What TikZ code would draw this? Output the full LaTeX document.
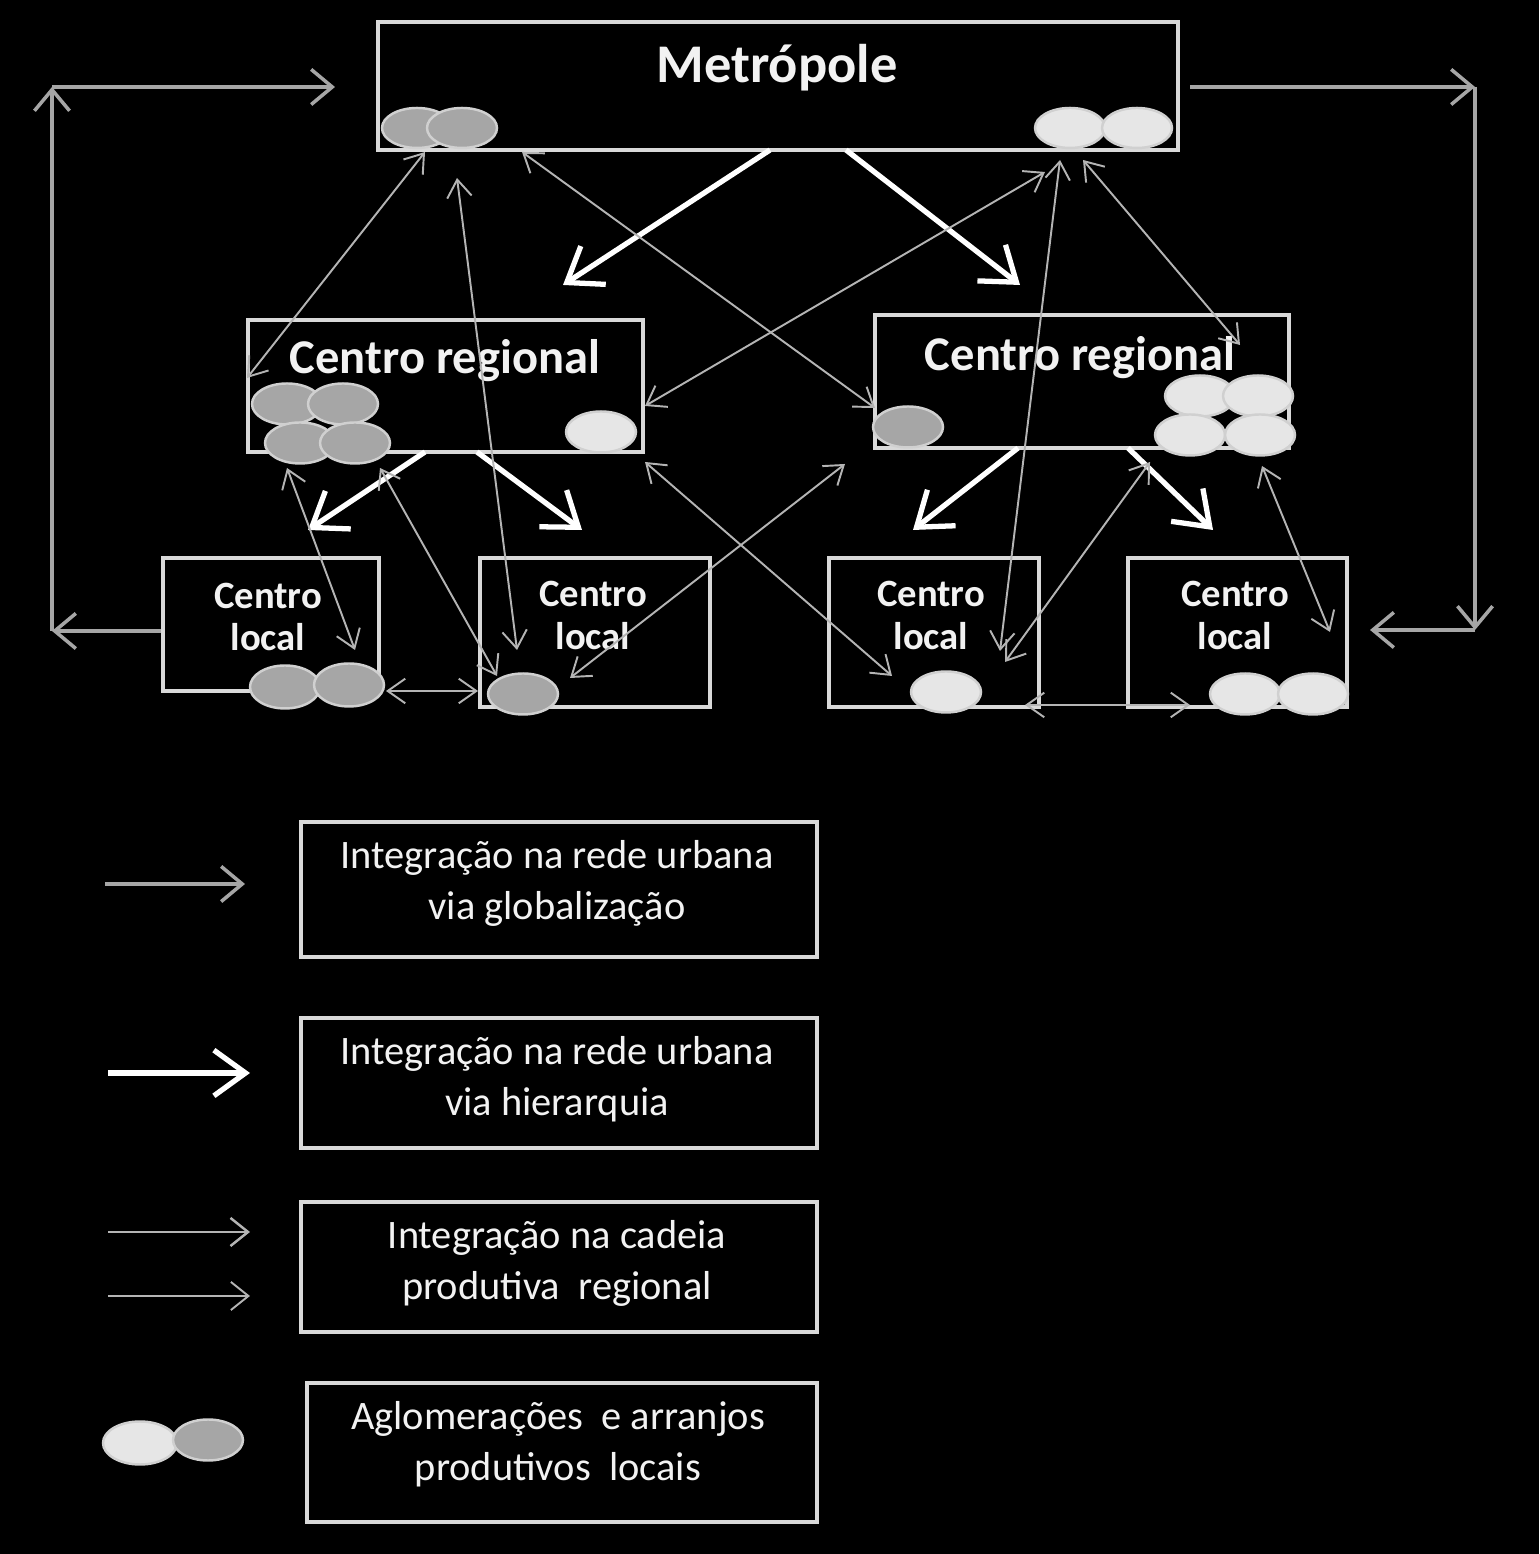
\documentclass[tikz,border=0pt]{standalone}
\usepackage{fontspec}
\setmainfont{Carlito}
\usetikzlibrary{arrows.meta,shapes.geometric}
\definecolor{boxline}{HTML}{D9D9D9}
\definecolor{txt}{HTML}{F2F2F2}
\definecolor{darkclus}{HTML}{A6A6A6}
\definecolor{lightclus}{HTML}{E6E6E6}
\definecolor{ring}{HTML}{D0D0D0}
\definecolor{globgray}{HTML}{A6A6A6}
\definecolor{chaingray}{HTML}{B4B4B4}
\tikzstyle{box}=[draw=boxline,line width=0.9pt,inner sep=0pt]
\tikzstyle{bigname}=[text=txt,font=\bfseries\fontsize{15.5}{18}\selectfont]
\tikzstyle{midname}=[text=txt,font=\bfseries\fontsize{13.8}{16}\selectfont]
\tikzstyle{smallname}=[text=txt,font=\bfseries\fontsize{11}{12.2}\selectfont,align=center]
\tikzstyle{legtext}=[text=txt,font=\fontsize{11.5}{14.5}\selectfont,align=center]
\tikzstyle{dclus}=[ellipse,draw=ring,line width=0.7pt,fill=darkclus,minimum width=0.70cm,minimum height=0.41cm,inner sep=0pt]
\tikzstyle{lclus}=[dclus,fill=lightclus]
\tikzstyle{hier}=[draw=white,line width=1.5pt,-{Straight Barb[length=9pt,width=13pt]}]
\tikzstyle{glob}=[draw=globgray,line width=1pt,-{Straight Barb[length=6pt,width=10pt]}]
\tikzstyle{chain}=[draw=chaingray,line width=0.55pt,{Straight Barb[length=5pt,width=7pt]}-{Straight Barb[length=5pt,width=7pt]}]

\begin{document}
\begin{tikzpicture}
	\fill[black] (0,0) rectangle (15.39,15.54);
	\useasboundingbox (0,0) rectangle (15.39,15.54);
	% boxes of the network
	\node[box,minimum width=8.00cm,minimum height=1.28cm] (metro) at (7.78,14.68) {};
	\node[box,minimum width=3.95cm,minimum height=1.32cm] (crl) at (4.455,11.68) {};
	\node[box,minimum width=4.14cm,minimum height=1.33cm] (crr) at (10.82,11.725) {};
	\node[box,minimum width=2.16cm,minimum height=1.33cm] (cl1) at (2.71,9.295) {};
	\node[box,minimum width=2.30cm,minimum height=1.49cm] (cl2) at (5.95,9.215) {};
	\node[box,minimum width=2.10cm,minimum height=1.49cm] (cl3) at (9.34,9.215) {};
	\node[box,minimum width=2.19cm,minimum height=1.49cm] (cl4) at (12.375,9.215) {};
	% clusters
	\node[dclus,minimum height=0.40cm] (md1) at (4.17,14.26) {};
	\node[dclus,minimum height=0.40cm] (md2) at (4.62,14.26) {};
	\node[lclus,minimum height=0.40cm] (ml1) at (10.70,14.26) {};
	\node[lclus,minimum height=0.40cm] (ml2) at (11.37,14.26) {};
	\node[dclus] (ad1) at (2.87,11.50) {};
	\node[dclus] (ad2) at (3.43,11.50) {};
	\node[dclus] (ad3) at (3.00,11.11) {};
	\node[dclus] (ad4) at (3.55,11.11) {};
	\node[lclus] (al1) at (6.01,11.22) {};
	\node[dclus] (bd1) at (9.08,11.27) {};
	\node[lclus] (bl1) at (12.00,11.58) {};
	\node[lclus] (bl2) at (12.58,11.58) {};
	\node[lclus] (bl3) at (11.90,11.19) {};
	\node[lclus] (bl4) at (12.60,11.19) {};
	\node[dclus,minimum height=0.43cm] (cd1) at (2.85,8.67) {};
	\node[dclus,minimum height=0.43cm] (cd2) at (3.49,8.69) {};
	\node[dclus] (dd1) at (5.23,8.60) {};
	\node[lclus] (el1) at (9.46,8.62) {};
	\node[lclus] (fl1) at (12.45,8.60) {};
	\node[lclus] (fl2) at (13.13,8.60) {};
	% names
	\node[bigname] (metrotxt) at (7.77,14.86) {Metrópole};
	\node[midname] (crltxt) at (4.45,11.93) {Centro regional};
	\node[midname] (crrtxt) at (10.80,11.96) {Centro regional};
	\node[smallname] (cl1txt) at (2.68,9.37) {Centro\\local};
	\node[smallname] (cl2txt) at (5.93,9.385) {Centro\\local};
	\node[smallname] (cl3txt) at (9.31,9.385) {Centro\\local};
	\node[smallname] (cl4txt) at (12.35,9.385) {Centro\\local};
	% arrow ends
	\coordinate (gl1) at (0.52,9.23);
	\coordinate (gl2) at (0.52,14.67);
	\coordinate (gl3) at (3.35,14.67);
	\coordinate (gr1) at (11.90,14.67);
	\coordinate (gr2) at (14.75,14.67);
	\coordinate (gr3) at (14.75,9.24);
	\coordinate (gr4) at (13.70,9.24);
	\coordinate (h1a) at (7.70,14.04);
	\coordinate (h1b) at (5.63,12.69);
	\coordinate (h2a) at (8.46,14.04);
	\coordinate (h2b) at (10.20,12.69);
	\coordinate (h3a) at (4.25,11.02);
	\coordinate (h3b) at (3.08,10.24);
	\coordinate (h4a) at (4.77,11.02);
	\coordinate (h4b) at (5.82,10.24);
	\coordinate (h5a) at (10.18,11.06);
	\coordinate (h5b) at (9.13,10.24);
	\coordinate (h6a) at (11.28,11.06);
	\coordinate (h6b) at (12.13,10.24);
	\coordinate (c1a) at (4.25,14.02);
	\coordinate (c1b) at (2.47,11.76);
	\coordinate (c2a) at (4.57,13.76);
	\coordinate (c2b) at (5.17,9.04);
	\coordinate (c3a) at (5.22,14.02);
	\coordinate (c3b) at (8.75,11.46);
	\coordinate (c4a) at (10.45,13.82);
	\coordinate (c4b) at (6.45,11.48);
	\coordinate (c5a) at (10.60,13.94);
	\coordinate (c5b) at (10.00,9.03);
	\coordinate (c6a) at (10.83,13.94);
	\coordinate (c6b) at (12.40,12.09);
	\coordinate (c7a) at (2.87,10.86);
	\coordinate (c7b) at (3.55,9.04);
	\coordinate (c8a) at (3.80,10.86);
	\coordinate (c8b) at (4.97,8.78);
	\coordinate (c9a) at (6.45,10.92);
	\coordinate (c9b) at (8.92,8.78);
	\coordinate (c10a) at (8.45,10.90);
	\coordinate (c10b) at (5.70,8.76);
	\coordinate (c11a) at (11.50,10.92);
	\coordinate (c11b) at (10.05,8.92);
	\coordinate (c12a) at (12.62,10.88);
	\coordinate (c12b) at (13.30,9.22);
	\coordinate (c13a) at (3.86,8.63);
	\coordinate (c13b) at (4.78,8.63);
	\coordinate (c14a) at (10.25,8.49);
	\coordinate (c14b) at (11.90,8.49);
	% globalization
	\draw[glob] (cl1.west |- gl1) -- (gl1);
	\draw[glob] (gl1) -- (gl2);
	\draw[glob] (gl2) -- (gl3);
	\draw[glob] (gr1) -- (gr2);
	\draw[glob] (gr2) -- (gr3);
	\draw[glob] (gr3) -- (gr4);
	% hierarchy
	\draw[hier] (h1a) -- (h1b);
	\draw[hier] (h2a) -- (h2b);
	\draw[hier] (h3a) -- (h3b);
	\draw[hier] (h4a) -- (h4b);
	\draw[hier] (h5a) -- (h5b);
	\draw[hier] (h6a) -- (h6b);
	% productive chain
	\draw[chain] (c1a) -- (c1b);
	\draw[chain] (c2a) -- (c2b);
	\draw[chain] (c3a) -- (c3b);
	\draw[chain] (c4a) -- (c4b);
	\draw[chain] (c5a) -- (c5b);
	\draw[chain] (c6a) -- (c6b);
	\draw[chain] (c7a) -- (c7b);
	\draw[chain] (c8a) -- (c8b);
	\draw[chain] (c9a) -- (c9b);
	\draw[chain] (c10a) -- (c10b);
	\draw[chain] (c11a) -- (c11b);
	\draw[chain] (c12a) -- (c12b);
	\draw[chain] (c13a) -- (c13b);
	\draw[chain] (c14a) -- (c14b);
	% legend
	\node[box,minimum width=5.16cm,minimum height=1.35cm] (leg1) at (5.59,6.645) {};
	\node[box,minimum width=5.16cm,minimum height=1.30cm] (leg2) at (5.59,4.71) {};
	\node[box,minimum width=5.16cm,minimum height=1.30cm] (leg3) at (5.59,2.87) {};
	\node[box,minimum width=5.10cm,minimum height=1.39cm] (leg4) at (5.62,1.015) {};
	\node[legtext] (leg1txt) at (5.57,6.71) {Integração na rede urbana\\via globalização};
	\node[legtext] (leg2txt) at (5.57,4.75) {Integração na rede urbana\\via hierarquia};
	\node[legtext] (leg3txt) at (5.57,2.91) {Integração na cadeia\\produtiva\ \ regional};
	\node[legtext] (leg4txt) at (5.58,1.10) {Aglomerações\ \ e arranjos\\produtivos\ \ locais};
	\coordinate (k1a) at (1.05,6.70);
	\coordinate (k1b) at (2.45,6.70);
	\coordinate (k2a) at (1.08,4.81);
	\coordinate (k2b) at (2.50,4.81);
	\coordinate (k3a) at (1.08,3.22);
	\coordinate (k3b) at (2.50,3.22);
	\coordinate (k4a) at (1.08,2.58);
	\coordinate (k4b) at (2.50,2.58);
	\draw[glob] (k1a) -- (k1b);
	\draw[hier] (k2a) -- (k2b);
	\draw[chain,line width=0.7pt,-{Straight Barb[length=5pt,width=8pt]}] (k3a) -- (k3b);
	\draw[chain,-{Straight Barb[length=5pt,width=8pt]}] (k4a) -- (k4b);
	\node[lclus,minimum width=0.74cm,minimum height=0.43cm] (kl) at (1.40,1.11) {};
	\node[dclus,minimum height=0.41cm] (kd) at (2.08,1.14) {};
\end{tikzpicture}
\end{document}
